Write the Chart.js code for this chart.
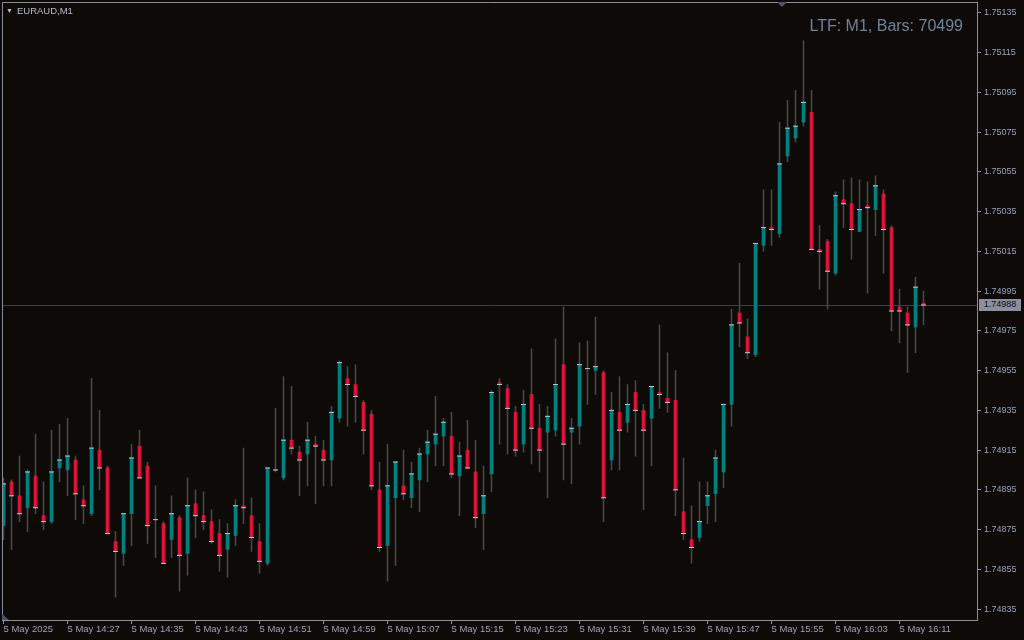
<!DOCTYPE html>
<html>
<head>
<meta charset="utf-8">
<script src="https://cdn.jsdelivr.net/npm/chart.js@4.4.1/dist/chart.umd.min.js"></script>
<style>
html,body{margin:0;padding:0;background:#0d0a08;overflow:hidden}
#wrap{position:relative;width:1024px;height:640px}
canvas{display:block}
#sym{position:absolute;left:6px;top:5px;font:9.5px "Liberation Sans",Arial,sans-serif;color:#b8bccb;white-space:nowrap}
#sym .tri{font-size:7px;margin-right:4px;position:relative;top:-1px}
#info{position:absolute;right:61px;top:17px;font:16px "Liberation Sans",Arial,sans-serif;color:#72829a;white-space:nowrap}
#plabel{position:absolute;left:979px;width:42px;height:12px;line-height:12px;background:#8c909e;color:#0d0a08;font:9px "Liberation Sans",Arial,sans-serif;text-align:center}
</style>
</head>
<body>
<div id="wrap">
<canvas id="c" width="1024" height="640"></canvas>
<div id="sym"><span class="tri">▼</span>EURAUD,M1</div>
<div id="info">LTF: M1, Bars: 70499</div>
<div id="plabel"></div>
</div>
<script>
// ---- data ----
const symbolName = "EURAUD,M1";
const infoText = "LTF: M1, Bars: 70499";
const xTickLabels = ["5 May 2025","5 May 14:27","5 May 14:35","5 May 14:43","5 May 14:51","5 May 14:59","5 May 15:07","5 May 15:15","5 May 15:23","5 May 15:31","5 May 15:39","5 May 15:47","5 May 15:55","5 May 16:03","5 May 16:11"];
const xTickBars = [0,8,16,24,32,40,48,56,64,72,80,88,96,104,112];
const yTickValues = [1.74835,1.74855,1.74875,1.74895,1.74915,1.74935,1.74955,1.74975,1.74995,1.75015,1.75035,1.75055,1.75075,1.75095,1.75115,1.75135];

const opens = [1.74877,1.74899,1.74892,1.74886,1.74902,1.74882,1.74879,1.74906,1.74905,1.74910,
1.74890,1.74883,1.74915,1.74906,1.74869,1.74863,1.74883,1.74917,1.74907,1.74880,
1.74878,1.74870,1.74881,1.74863,1.74888,1.74882,1.74879,1.74873,1.74865,1.74872,
1.74887,1.74882,1.74869,1.74858,1.74905,1.74901,1.74920,1.74914,1.74913,1.74918,
1.74915,1.74910,1.74931,1.74951,1.74948,1.74939,1.74933,1.74895,1.74867,1.74891,
1.74897,1.74891,1.74900,1.74913,1.74918,1.74922,1.74922,1.74902,1.74915,1.74904,
1.74883,1.74903,1.74949,1.74946,1.74934,1.74918,1.74943,1.74926,1.74924,1.74925,
1.74958,1.74924,1.74927,1.74956,1.74955,1.74954,1.74910,1.74934,1.74929,1.74944,
1.74935,1.74931,1.74944,1.74941,1.74940,1.74884,1.74870,1.74871,1.74887,1.74893,
1.74904,1.74938,1.74984,1.74972,1.74963,1.75018,1.75027,1.75024,1.75063,1.75072,
1.75080,1.75085,1.75016,1.75020,1.75004,1.75041,1.75039,1.75025,1.75038,1.75036,
1.75044,1.75027,1.74987,1.74984,1.74977,1.74989];
const highs = [1.74901,1.74900,1.74912,1.74905,1.74923,1.74899,1.74925,1.74928,1.74931,1.74912,
1.74897,1.74951,1.74935,1.74907,1.74874,1.74883,1.74918,1.74925,1.74909,1.74897,
1.74879,1.74892,1.74882,1.74901,1.74895,1.74894,1.74885,1.74880,1.74878,1.74890,
1.74916,1.74891,1.74878,1.74906,1.74936,1.74952,1.74947,1.74917,1.74929,1.74922,
1.74920,1.74937,1.74960,1.74957,1.74958,1.74940,1.74935,1.74909,1.74918,1.74909,
1.74915,1.74909,1.74916,1.74925,1.74942,1.74931,1.74934,1.74919,1.74930,1.74920,
1.74907,1.74945,1.74951,1.74948,1.74937,1.74945,1.74966,1.74938,1.74937,1.74971,
1.74987,1.74931,1.74969,1.74970,1.74982,1.74955,1.74944,1.74952,1.74948,1.74950,
1.74938,1.74947,1.74978,1.74964,1.74955,1.74911,1.74887,1.74899,1.74899,1.74915,
1.74938,1.74986,1.75009,1.74981,1.75019,1.75046,1.75046,1.75080,1.75091,1.75096,
1.75121,1.75096,1.75028,1.75021,1.75045,1.75051,1.75052,1.75051,1.75050,1.75053,
1.75046,1.75028,1.74996,1.74987,1.75002,1.74995];
const lows = [1.74870,1.74865,1.74879,1.74874,1.74883,1.74875,1.74878,1.74899,1.74892,1.74880,
1.74878,1.74882,1.74895,1.74873,1.74841,1.74857,1.74867,1.74901,1.74868,1.74861,
1.74858,1.74861,1.74844,1.74852,1.74871,1.74875,1.74868,1.74854,1.74851,1.74867,
1.74878,1.74864,1.74853,1.74857,1.74904,1.74900,1.74913,1.74892,1.74897,1.74888,
1.74897,1.74897,1.74929,1.74927,1.74929,1.74913,1.74895,1.74864,1.74849,1.74857,
1.74890,1.74886,1.74884,1.74899,1.74907,1.74907,1.74901,1.74882,1.74906,1.74876,
1.74865,1.74894,1.74918,1.74913,1.74912,1.74914,1.74908,1.74904,1.74891,1.74922,
1.74900,1.74898,1.74918,1.74938,1.74943,1.74879,1.74905,1.74905,1.74924,1.74912,
1.74885,1.74907,1.74936,1.74934,1.74882,1.74870,1.74858,1.74869,1.74878,1.74879,
1.74896,1.74927,1.74967,1.74961,1.74962,1.75015,1.75018,1.75022,1.75060,1.75070,
1.75078,1.75016,1.74996,1.74986,1.75003,1.75027,1.75011,1.75025,1.74994,1.75023,
1.75004,1.74975,1.74969,1.74954,1.74964,1.74978];
const closes = [1.74898,1.74892,1.74883,1.74904,1.74886,1.74879,1.74904,1.74910,1.74912,1.74893,
1.74887,1.74916,1.74906,1.74873,1.74864,1.74883,1.74911,1.74901,1.74877,1.74880,
1.74858,1.74883,1.74862,1.74887,1.74882,1.74879,1.74869,1.74862,1.74873,1.74887,
1.74886,1.74871,1.74859,1.74906,1.74905,1.74920,1.74916,1.74910,1.74920,1.74917,
1.74910,1.74934,1.74959,1.74948,1.74942,1.74925,1.74897,1.74866,1.74897,1.74909,
1.74893,1.74903,1.74913,1.74919,1.74923,1.74929,1.74903,1.74912,1.74906,1.74881,
1.74892,1.74944,1.74948,1.74936,1.74915,1.74938,1.74926,1.74915,1.74932,1.74948,
1.74918,1.74926,1.74958,1.74956,1.74957,1.74891,1.74935,1.74925,1.74938,1.74935,
1.74925,1.74947,1.74943,1.74939,1.74895,1.74873,1.74866,1.74879,1.74892,1.74911,
1.74938,1.74978,1.74979,1.74964,1.75019,1.75027,1.75026,1.75059,1.75077,1.75078,
1.75090,1.75016,1.75015,1.75005,1.75043,1.75039,1.75026,1.75036,1.75037,1.75048,
1.75026,1.74985,1.74985,1.74978,1.74997,1.74988];

// ---- styles / layout ----
const BG = '#0d0a08';
const UP = '#008080';
const DOWN = '#dc143c';
const WICK = '#464646';
const CLOSE_MARK = '#c8c8c8';
const AXIS = '#8a8fa0';
const TICK_TEXT = '#98a2bc';
const PRICE_LINE = '#3c3c4c';
const X_MIN = -0.1875, X_MAX = 121.6875;
const Y_MIN = 1.748295, Y_MAX = 1.751405;

const lastClose = closes[closes.length - 1];

function zeroPad(s) { s.paddingTop = 0; s.paddingBottom = 0; s.paddingLeft = 0; s.paddingRight = 0; }

const bgPlugin = {
  id: 'bg',
  beforeDraw(chart) {
    const ctx = chart.ctx;
    ctx.save();
    ctx.fillStyle = BG;
    ctx.fillRect(0, 0, chart.width, chart.height);
    ctx.restore();
  },
  beforeDatasetsDraw(chart) {
    const ctx = chart.ctx, a = chart.chartArea;
    const y = Math.round(chart.scales.y.getPixelForValue(lastClose)) + 0.5;
    ctx.save();
    ctx.strokeStyle = PRICE_LINE;
    ctx.lineWidth = 1;
    ctx.beginPath();
    ctx.moveTo(a.left, y);
    ctx.lineTo(a.right, y);
    ctx.stroke();
    ctx.restore();
  },
  afterDraw(chart) {
    const ctx = chart.ctx, a = chart.chartArea;
    ctx.save();
    ctx.strokeStyle = AXIS;
    ctx.lineWidth = 1;
    ctx.beginPath();
    ctx.moveTo(Math.round(a.left) + 0.5, a.bottom);
    ctx.lineTo(Math.round(a.left) + 0.5, Math.round(a.top) + 0.5);
    ctx.lineTo(a.right, Math.round(a.top) + 0.5);
    ctx.stroke();
    ctx.fillStyle = '#4a5472';
    ctx.beginPath();
    ctx.moveTo(777, a.top); ctx.lineTo(787, a.top); ctx.lineTo(782, a.top + 5); ctx.closePath();
    ctx.fill();
    ctx.beginPath();
    ctx.moveTo(a.left, a.bottom); ctx.lineTo(a.left, a.bottom - 6); ctx.lineTo(a.left + 7, a.bottom); ctx.closePath();
    ctx.fill();
    ctx.restore();
    const pl = document.getElementById('plabel');
    pl.textContent = lastClose.toFixed(5);
    pl.style.top = (Math.round(chart.scales.y.getPixelForValue(lastClose)) - 6) + 'px';
  }
};

const wickData = lows.map((l, i) => ({ x: i, y: [l, highs[i]] }));
const bodyData = opens.map((o, i) => ({ x: i, y: [o, closes[i]] }));
const closeData = closes.map((c, i) => ({ x: i, y: c }));

document.getElementById('sym').lastChild.textContent = symbolName;
document.getElementById('info').textContent = infoText;

new Chart(document.getElementById('c'), {
  type: 'bar',
  data: {
    datasets: [
      {
        type: 'line', data: closeData, showLine: false, order: 0,
        pointStyle: 'line', pointRadius: 2.5, pointHoverRadius: 2.5,
        pointBorderWidth: 1, pointBorderColor: CLOSE_MARK, pointBackgroundColor: CLOSE_MARK
      },
      {
        data: bodyData, order: 1, grouped: false, barThickness: 3,
        backgroundColor: (ctx) => (closes[ctx.dataIndex] >= opens[ctx.dataIndex] ? UP : DOWN),
        borderWidth: 0
      },
      {
        data: wickData, order: 2, grouped: false, barThickness: 1,
        backgroundColor: WICK, borderWidth: 0
      }
    ]
  },
  options: {
    responsive: false,
    animation: false,
    devicePixelRatio: 1,
    layout: { autoPadding: false, padding: { left: 2, top: 2, right: 0, bottom: 0 } },
    plugins: { legend: { display: false }, tooltip: { enabled: false } },
    events: [],
    scales: {
      x: {
        type: 'linear', min: X_MIN, max: X_MAX, offset: false,
        grid: { offset: false, drawOnChartArea: false, drawTicks: true, tickLength: 4, tickColor: AXIS, color: AXIS },
        border: { display: true, color: AXIS },
        afterBuildTicks: (s) => { s.ticks = xTickBars.map(v => ({ value: v })); },
        afterFit: (s) => { s.height = 20; zeroPad(s); },
        ticks: {
          autoSkip: false, maxRotation: 0, minRotation: 0, align: 'start', padding: 0,
          color: TICK_TEXT, font: { family: 'Liberation Sans', size: 9.5 },
          callback: (v, i) => xTickLabels[i]
        }
      },
      y: {
        type: 'linear', position: 'right', min: Y_MIN, max: Y_MAX,
        grid: { drawOnChartArea: false, drawTicks: true, tickLength: 4, tickColor: AXIS, color: AXIS },
        border: { display: true, color: AXIS },
        afterBuildTicks: (s) => { s.ticks = yTickValues.map(v => ({ value: v })); },
        afterFit: (s) => { s.width = 47; zeroPad(s); },
        ticks: {
          padding: 3, color: TICK_TEXT, font: { family: 'Liberation Sans', size: 9 },
          callback: (v) => Number(v).toFixed(5)
        }
      }
    }
  },
  plugins: [bgPlugin]
});
</script>
</body>
</html>
